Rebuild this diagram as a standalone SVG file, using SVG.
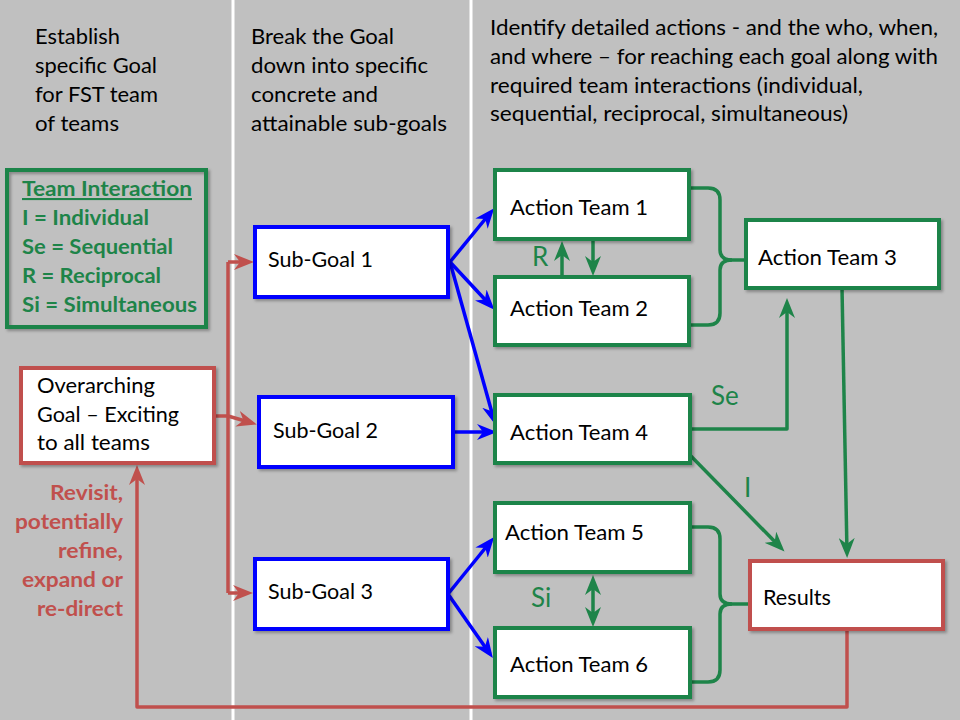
<svg xmlns="http://www.w3.org/2000/svg" width="960" height="720" viewBox="0 0 960 720">
<style>
  text { font-family: Lato, "Open Sans", "Liberation Sans", sans-serif; font-size: 21.5px; fill: #000; }
  .hdr { font-size: 21.5px; }
  .lg { font-weight: bold; fill: #1e8449; font-size: 21px; }
  .rv { font-weight: bold; fill: #c0504d; font-size: 21px; text-anchor: end; }
  .gl { fill: #1e8449; font-size: 26px; }
  .gbox { fill: #fff; stroke: #1e8449; stroke-width: 4; filter: url(#sh); }
  .bbox { fill: #fff; stroke: #0000ff; stroke-width: 4; filter: url(#sh); }
  .rbox { fill: #fff; stroke: #c0504d; stroke-width: 4; filter: url(#sh); }
  .gc { fill: none; stroke: #1e8449; stroke-width: 3.5; stroke-linejoin: round; }
  .bc { fill: none; stroke: #0000ff; stroke-width: 3.5; }
  .rc { fill: none; stroke: #c0504d; stroke-width: 3.5; stroke-linejoin: round; }
</style>
<defs>
  <filter id="sh" x="-10%" y="-10%" width="120%" height="130%">
    <feDropShadow dx="2" dy="2" stdDeviation="1.5" flood-color="#000" flood-opacity="0.3"/>
  </filter>
  <marker id="ag" markerUnits="userSpaceOnUse" viewBox="0 0 20 16" markerWidth="20" markerHeight="16" refX="15" refY="8" orient="auto-start-reverse">
    <path d="M0,0 L20,8 L0,16 L6,8 Z" fill="#1e8449"/>
  </marker>
  <marker id="ab" markerUnits="userSpaceOnUse" viewBox="0 0 20 16" markerWidth="20" markerHeight="16" refX="15" refY="8" orient="auto">
    <path d="M0,0 L20,8 L0,16 L6,8 Z" fill="#0000ff"/>
  </marker>
  <marker id="ar" markerUnits="userSpaceOnUse" viewBox="0 0 20 16" markerWidth="20" markerHeight="16" refX="15" refY="8" orient="auto">
    <path d="M0,0 L20,8 L0,16 L6,8 Z" fill="#c0504d"/>
  </marker>
</defs>

<rect x="0" y="0" width="960" height="720" fill="#c0c0c0"/>
<rect x="231.5" y="0" width="3" height="720" fill="#fff"/>
<rect x="469.5" y="0" width="3" height="720" fill="#fff"/>

<g id="headers">
  <text class="hdr" x="35" y="44" textLength="85" lengthAdjust="spacingAndGlyphs">Establish</text>
  <text class="hdr" x="35" y="73" textLength="122" lengthAdjust="spacingAndGlyphs">specific Goal</text>
  <text class="hdr" x="35" y="102" textLength="123" lengthAdjust="spacingAndGlyphs">for FST team</text>
  <text class="hdr" x="35" y="131" textLength="84" lengthAdjust="spacingAndGlyphs">of teams</text>
  <text class="hdr" x="251" y="44" textLength="143" lengthAdjust="spacingAndGlyphs">Break the Goal</text>
  <text class="hdr" x="251" y="73" textLength="177" lengthAdjust="spacingAndGlyphs">down into specific</text>
  <text class="hdr" x="251" y="102" textLength="127" lengthAdjust="spacingAndGlyphs">concrete and</text>
  <text class="hdr" x="251" y="131" textLength="196" lengthAdjust="spacingAndGlyphs">attainable sub-goals</text>
  <text class="hdr" x="490" y="35" textLength="448" lengthAdjust="spacingAndGlyphs">Identify detailed actions - and the who, when,</text>
  <text class="hdr" x="490" y="64" textLength="448" lengthAdjust="spacingAndGlyphs">and where – for reaching each goal along with</text>
  <text class="hdr" x="490" y="93" textLength="373" lengthAdjust="spacingAndGlyphs">required team interactions (individual,</text>
  <text class="hdr" x="490" y="121" textLength="358" lengthAdjust="spacingAndGlyphs">sequential, reciprocal, simultaneous)</text>
</g>

<g id="legend">
  <rect x="7" y="170" width="199" height="157" fill="none" stroke="#1e8449" stroke-width="4" filter="url(#sh)"/>
  <text class="lg" x="22" y="196" textLength="170" lengthAdjust="spacingAndGlyphs" text-decoration="underline">Team Interaction</text>
  <text class="lg" x="22" y="225" textLength="127" lengthAdjust="spacingAndGlyphs">I = Individual</text>
  <text class="lg" x="22" y="254" textLength="151" lengthAdjust="spacingAndGlyphs">Se = Sequential</text>
  <text class="lg" x="22" y="283" textLength="139" lengthAdjust="spacingAndGlyphs">R = Reciprocal</text>
  <text class="lg" x="22" y="312" textLength="175" lengthAdjust="spacingAndGlyphs">Si = Simultaneous</text>
</g>

<g id="revisit-note">
  <text class="rv" x="123" y="500" textLength="73" lengthAdjust="spacingAndGlyphs">Revisit,</text>
  <text class="rv" x="123" y="529" textLength="108" lengthAdjust="spacingAndGlyphs">potentially</text>
  <text class="rv" x="123" y="558" textLength="65" lengthAdjust="spacingAndGlyphs">refine,</text>
  <text class="rv" x="123" y="587" textLength="101" lengthAdjust="spacingAndGlyphs">expand or</text>
  <text class="rv" x="123" y="616" textLength="86" lengthAdjust="spacingAndGlyphs">re-direct</text>
</g>

<g id="connectors">
  <!-- red: overarching to sub-goals -->
  <path class="rc" d="M214,416 L228,416"/>
  <path class="rc" d="M228,262 L228,593"/>
  <path class="rc" d="M228,262 L249,262" marker-end="url(#ar)"/>
  <path class="rc" d="M228,416 L252,423" marker-end="url(#ar)"/>
  <path class="rc" d="M228,593 L248,593" marker-end="url(#ar)"/>
  <!-- red feedback loop -->
  <path class="rc" d="M847,629 L847,707 L137,707 L137,470" marker-end="url(#ar)"/>
  <!-- blue: sub-goals to action teams -->
  <path class="bc" d="M450,262 L491,212" marker-end="url(#ab)"/>
  <path class="bc" d="M450,262 L491,306" marker-end="url(#ab)"/>
  <path class="bc" d="M450,262 L494,420" marker-end="url(#ab)"/>
  <path class="bc" d="M453,432 L492,432" marker-end="url(#ab)"/>
  <path class="bc" d="M448,594 L491,541" marker-end="url(#ab)"/>
  <path class="bc" d="M448,594 L490,654" marker-end="url(#ab)"/>
  <!-- green: R reciprocal -->
  <path class="gc" d="M562,277 L562,246" marker-end="url(#ag)"/>
  <path class="gc" d="M593,239 L593,271" marker-end="url(#ag)"/>
  <!-- green: brace AT1/AT2 to AT3 -->
  <path class="gc" d="M689,188 L708,188 Q720,188 720,200 L720,250 Q720,260 732,260 L750,260"/>
  <path class="gc" d="M689,325 L708,325 Q720,325 720,313 L720,270 Q720,260 732,260"/>
  <!-- green: Se AT4 to AT3 -->
  <path class="gc" d="M690,429 L787,429 L787,303" marker-end="url(#ag)"/>
  <!-- green: AT3 to Results -->
  <path class="gc" d="M842,288 L847,553" marker-end="url(#ag)"/>
  <!-- green: I AT4 to Results -->
  <path class="gc" d="M685,450 L781,548" marker-end="url(#ag)"/>
  <!-- green: Si double arrow -->
  <path class="gc" d="M593,580 L593,622" marker-start="url(#ag)" marker-end="url(#ag)"/>
  <!-- green: brace AT5/AT6 to Results -->
  <path class="gc" d="M690,527 L708,527 Q720,527 720,539 L720,594 Q720,604 732,604 L755,604"/>
  <path class="gc" d="M690,682 L708,682 Q720,682 720,670 L720,614 Q720,604 732,604"/>
  <text class="gl" x="532" y="266">R</text>
  <text class="gl" x="711" y="405">Se</text>
  <text class="gl" x="744" y="497">I</text>
  <text class="gl" x="531" y="607">Si</text>
</g>

<g id="overarching-goal">
  <rect class="rbox" x="21" y="368" width="193" height="95"/>
  <text x="37" y="393" textLength="118" lengthAdjust="spacingAndGlyphs">Overarching</text>
  <text x="37" y="422" textLength="142" lengthAdjust="spacingAndGlyphs">Goal – Exciting</text>
  <text x="37" y="450" textLength="113" lengthAdjust="spacingAndGlyphs">to all teams</text>
</g>

<g id="sub-goal-1">
  <rect class="bbox" x="255" y="227" width="193" height="70"/>
  <text x="268" y="267" textLength="105" lengthAdjust="spacingAndGlyphs">Sub-Goal 1</text>
</g>
<g id="sub-goal-2">
  <rect class="bbox" x="259" y="397" width="194" height="70"/>
  <text x="273" y="438" textLength="105" lengthAdjust="spacingAndGlyphs">Sub-Goal 2</text>
</g>
<g id="sub-goal-3">
  <rect class="bbox" x="255" y="559" width="193" height="70"/>
  <text x="268" y="599" textLength="105" lengthAdjust="spacingAndGlyphs">Sub-Goal 3</text>
</g>

<g id="action-team-1">
  <rect class="gbox" x="495" y="170" width="194" height="69"/>
  <text x="510" y="215" textLength="138" lengthAdjust="spacingAndGlyphs">Action Team 1</text>
</g>
<g id="action-team-2">
  <rect class="gbox" x="495" y="277" width="194" height="68"/>
  <text x="510" y="316" textLength="138" lengthAdjust="spacingAndGlyphs">Action Team 2</text>
</g>
<g id="action-team-3">
  <rect class="gbox" x="746" y="220" width="193" height="68"/>
  <text x="758" y="265" textLength="139" lengthAdjust="spacingAndGlyphs">Action Team 3</text>
</g>
<g id="action-team-4">
  <rect class="gbox" x="495" y="395" width="195" height="68"/>
  <text x="510" y="440" textLength="138" lengthAdjust="spacingAndGlyphs">Action Team 4</text>
</g>
<g id="action-team-5">
  <rect class="gbox" x="495" y="503" width="195" height="69"/>
  <text x="505" y="540" textLength="139" lengthAdjust="spacingAndGlyphs">Action Team 5</text>
</g>
<g id="action-team-6">
  <rect class="gbox" x="495" y="628" width="195" height="69"/>
  <text x="510" y="672" textLength="138" lengthAdjust="spacingAndGlyphs">Action Team 6</text>
</g>
<g id="results">
  <rect class="rbox" x="750" y="561" width="193" height="68"/>
  <text x="763" y="605" textLength="68" lengthAdjust="spacingAndGlyphs">Results</text>
</g>
</svg>
